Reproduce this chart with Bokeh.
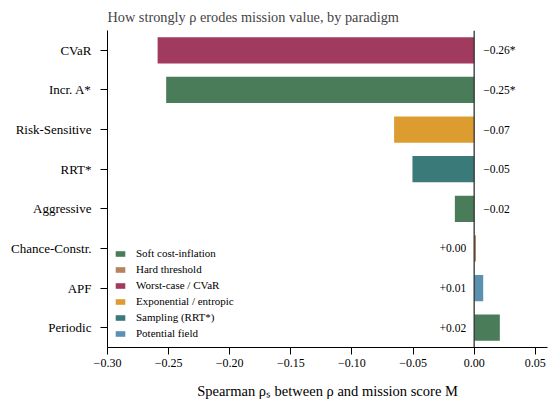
from bokeh.plotting import figure
from bokeh.models import (ColumnDataSource, CDSView, GroupFilter, FactorRange, Range1d,
                          FixedTicker, CustomJSTickFormatter, Span)
from bokeh.core.properties import value
from bokeh.embed import file_html
from bokeh.resources import INLINE

# ---- data (top to bottom as shown) ----
methods = ["CVaR", "Incr. A*", "Risk-Sensitive", "RRT*", "Aggressive",
           "Chance-Constr.", "APF", "Periodic"]
rho_s = [-0.259, -0.252, -0.0655, -0.0505, -0.0158, 0.0015, 0.0074, 0.021]
labels = ["\u22120.26*", "\u22120.25*", "\u22120.07", "\u22120.05", "\u22120.02",
          "+0.00", "+0.01", "+0.02"]
paradigm = ["Worst-case / CVaR", "Soft cost-inflation", "Exponential / entropic",
            "Sampling (RRT*)", "Soft cost-inflation", "Hard threshold",
            "Potential field", "Soft cost-inflation"]
legend_order = ["Soft cost-inflation", "Hard threshold", "Worst-case / CVaR",
                "Exponential / entropic", "Sampling (RRT*)", "Potential field"]
colors = {"Soft cost-inflation": "#4a7c59", "Hard threshold": "#b5835f",
          "Worst-case / CVaR": "#a03a5e", "Exponential / entropic": "#dd9c30",
          "Sampling (RRT*)": "#3a7a78", "Potential field": "#5a90b0"}
xticks = [-0.30, -0.25, -0.20, -0.15, -0.10, -0.05, 0.00, 0.05]

FONT = "Liberation Serif"

src = ColumnDataSource(dict(
    method=methods, val=rho_s, label=labels, paradigm=paradigm,
    color=[colors[p] for p in paradigm],
    align=["left" if v < 0 else "right" for v in rho_s],
    xoff=[9 if v < 0 else -8 for v in rho_s],
))

p = figure(width=550, height=406, output_backend="svg", toolbar_location=None,
           y_range=FactorRange(factors=list(reversed(methods))),
           x_range=Range1d(-0.30, 0.06),
           title="How strongly \u03c1 erodes mission value, by paradigm",
           min_border_left=107, min_border_right=3, min_border_top=30,
           min_border_bottom=59)

for par in legend_order:
    view = CDSView(filter=GroupFilter(column_name="paradigm", group=par))
    p.hbar(y="method", right="val", left=0, height=0.66, source=src, view=view,
           fill_color=colors[par], line_color=None, legend_label=par)

p.add_layout(Span(location=0, dimension="height", line_color="#333333", line_width=1.3))

p.text(x=0, y="method", text="label", source=src, x_offset="xoff",
       text_align="align", text_baseline="middle",
       text_font=value(FONT), text_font_size="11.5px", text_color="black")

# styling
p.outline_line_color = None
p.grid.visible = False
p.background_fill_color = "white"

p.title.text_font = FONT
p.title.text_font_size = "14.3px"
p.title.text_font_style = "normal"
p.title.align = "left"
p.title.offset = 0
p.title.standoff = 11

xa = p.xaxis[0]
xa.ticker = FixedTicker(ticks=xticks)
xa.formatter = CustomJSTickFormatter(code="return (tick < -1e-9 ? '\u2212' : '') + Math.abs(tick).toFixed(2);")
xa.minor_tick_line_color = None
xa.major_tick_out = 7
xa.major_tick_in = 0
xa.major_label_standoff = 4
xa.major_label_text_font = FONT
xa.major_label_text_font_size = "12px"
xa.major_label_text_color = "black"
xa.axis_label = "Spearman \u03c1\u209b between \u03c1 and mission score M"
xa.axis_label_text_font = FONT
xa.axis_label_text_font_size = "14.5px"
xa.axis_label_text_font_style = "normal"
xa.axis_label_text_color = "black"
xa.axis_label_standoff = 13
xa.axis_line_color = "black"

ya = p.yaxis[0]
ya.major_tick_out = 7
ya.major_tick_in = 0
ya.major_label_standoff = 9
ya.major_label_text_font = FONT
ya.major_label_text_font_size = "13px"
ya.major_label_text_color = "black"
ya.axis_line_color = "black"
ya.minor_tick_line_color = None

lg = p.legend[0]
lg.location = (7, 8)
lg.padding = 0
lg.margin = 0
lg.border_line_color = None
lg.background_fill_alpha = 0
lg.glyph_width = 12
lg.glyph_height = 7
lg.label_height = 12
lg.spacing = 4
lg.label_standoff = 10
lg.label_text_font = FONT
lg.label_text_font_size = "11px"
lg.label_text_color = "black"

open("out.html", "w").write(file_html(p, INLINE))
